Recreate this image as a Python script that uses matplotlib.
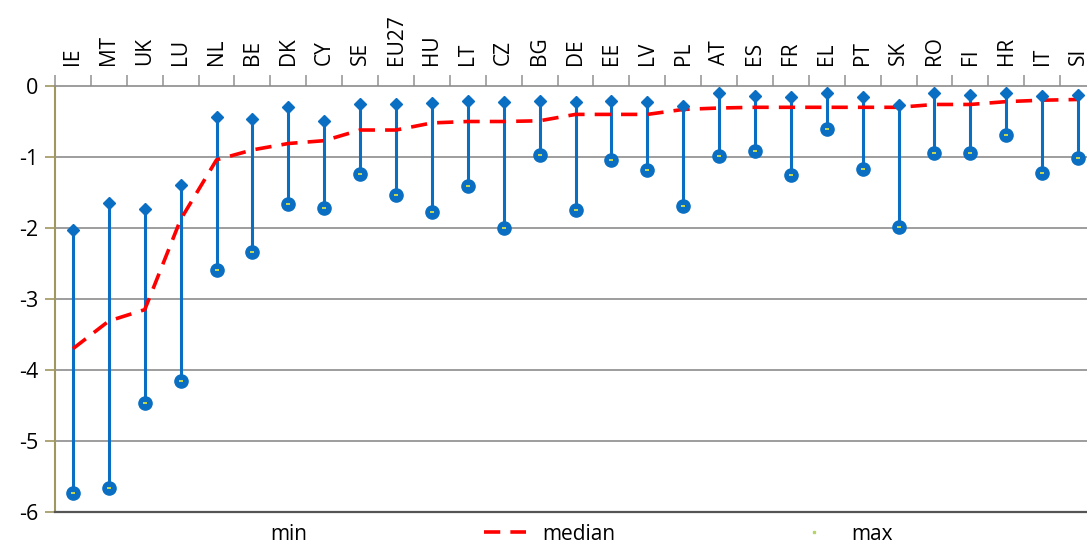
import matplotlib
matplotlib.use("Agg")
import matplotlib.pyplot as plt
from matplotlib.lines import Line2D

countries = ["IE", "MT", "UK", "LU", "NL", "BE", "DK", "CY", "SE", "EU27", "HU", "LT", "CZ", "BG",
             "DE", "EE", "LV", "PL", "AT", "ES", "FR", "EL", "PT", "SK", "RO", "FI", "HR", "IT", "SI"]
max_vals = [-2.03, -1.65, -1.73, -1.39, -0.44, -0.46, -0.30, -0.50, -0.26, -0.26, -0.24, -0.21, -0.23, -0.21,
            -0.23, -0.21, -0.23, -0.28, -0.10, -0.14, -0.16, -0.10, -0.16, -0.27, -0.10, -0.13, -0.10, -0.14, -0.13]
min_vals = [-5.73, -5.66, -4.46, -4.15, -2.59, -2.34, -1.66, -1.72, -1.24, -1.54, -1.78, -1.41, -2.00, -0.97,
            -1.75, -1.04, -1.19, -1.69, -0.98, -0.91, -1.25, -0.60, -1.17, -1.98, -0.95, -0.95, -0.69, -1.23, -1.02]
median_vals = [-3.70, -3.31, -3.15, -1.88, -1.04, -0.90, -0.81, -0.77, -0.62, -0.62, -0.52, -0.50, -0.50, -0.49,
               -0.40, -0.40, -0.40, -0.33, -0.31, -0.30, -0.30, -0.30, -0.30, -0.30, -0.26, -0.26, -0.22, -0.20, -0.19]
yticks = [0, -1, -2, -3, -4, -5, -6]

plt.rcParams['font.family'] = ['Open Sans', 'DejaVu Sans']

W, H = 1087, 545
fig = plt.figure(figsize=(W / 100, H / 100), dpi=100)
ax = fig.add_axes([55 / W, (H - 512) / H, (1096 - 55) / W, (512 - 86) / H])

x = list(range(len(countries)))
blue = "#0a6fc2"

# gridlines
for v in yticks[1:-1]:
    ax.axhline(v, color="#8c8c8c", lw=1.2, zorder=1)

# vertical ranges
ax.vlines(x, min_vals, max_vals, color=blue, lw=2.2, zorder=3)
# median
ax.plot(x, median_vals, color="#ff0000", lw=2.6, dashes=(4.5, 2.8), zorder=4)
# max markers
ax.plot(x, max_vals, ls="none", marker="D", ms=6, color=blue, zorder=5)
# min markers
ax.plot(x, min_vals, ls="none", marker="o", ms=9.5, color=blue, zorder=5)
ax.plot(x, min_vals, ls="none", marker="_", ms=3.5, mew=1.4, color="#c8d850", zorder=6)

ax.set_xlim(-0.5, len(countries) - 0.5)
ax.set_ylim(-6, 0)

ax.set_yticks(yticks)
ax.set_yticklabels([str(v) for v in yticks], fontsize=15.5)
ax.tick_params(axis="y", direction="out", length=7, width=1.2, color="#a09660", pad=5)

ax.xaxis.tick_top()
ax.set_xticks(x)
ax.set_xticklabels(countries, rotation=90, fontsize=15)
ax.tick_params(axis="x", which="major", length=0, pad=15, top=True, bottom=False)
ax.set_xticks([i - 0.5 for i in range(len(countries) + 1)], minor=True)
ax.tick_params(axis="x", which="minor", direction="out", length=8, width=1.2, color="#9a9a9a",
               top=True, bottom=False)

ax.spines["left"].set_color("#a09660")
ax.spines["left"].set_linewidth(1.5)
ax.spines["top"].set_color("#8c8c8c")
ax.spines["top"].set_linewidth(1.2)
ax.spines["bottom"].set_color("#555555")
ax.spines["bottom"].set_linewidth(1.6)
ax.spines["right"].set_visible(False)

handles = [
    Line2D([], [], ls="none", marker=None),
    Line2D([], [], color="#ff0000", lw=2.6, dashes=(4.5, 2.8)),
    Line2D([], [], ls="none", marker="s", ms=2, color="#b5d46a"),
]
fig.legend(handles, ["min", "median", "max"], loc="center", bbox_to_anchor=(0.508, 0.02),
           ncol=3, frameon=False, fontsize=15, handlelength=2.0, columnspacing=8.5,
           handletextpad=0.8)

fig.savefig("out.png", dpi=100)
